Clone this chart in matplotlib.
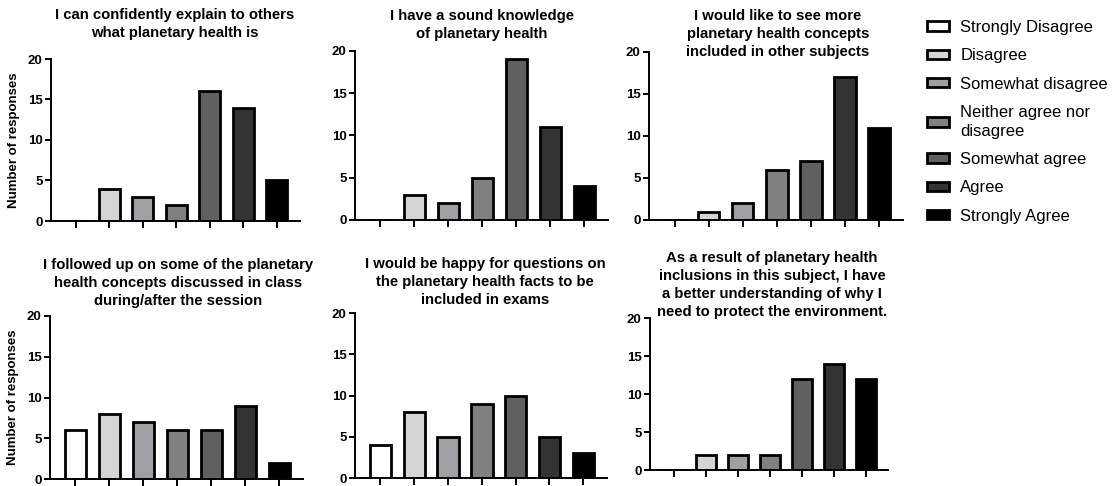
import matplotlib
matplotlib.use("Agg")
import matplotlib.pyplot as plt
from matplotlib.patches import Patch

plt.rcParams['font.family'] = ['Liberation Sans', 'DejaVu Sans']

categories = ["Strongly Disagree", "Disagree", "Somewhat disagree",
              "Neither agree nor\ndisagree", "Somewhat agree", "Agree",
              "Strongly Agree"]
colors = ["#ffffff", "#d4d4d4", "#a0a0a4", "#808080", "#606060", "#333333", "#000000"]

titles = [
    "I can confidently explain to others\nwhat planetary health is",
    "I have a sound knowledge\nof planetary health",
    "I would like to see more\nplanetary health concepts\nincluded in other subjects",
    "I followed up on some of the planetary\nhealth concepts discussed in class\nduring/after the session",
    "I would be happy for questions on\nthe planetary health facts to be\nincluded in exams",
    "As a result of planetary health\ninclusions in this subject, I have\na better understanding of why I\nneed to protect the environment.",
]

q1 = [0, 4, 3, 2, 16, 14, 5]
q2 = [0, 3, 2, 5, 19, 11, 4]
q3 = [0, 1, 2, 6, 7, 17, 11]
q4 = [6, 8, 7, 6, 6, 9, 2]
q5 = [4, 8, 5, 9, 10, 5, 3]
q6 = [0, 2, 2, 2, 12, 14, 12]
responses = [q1, q2, q3, q4, q5, q6]

W, H = 1114, 486
# pixel boxes: left, right, top, bottom, title centre x, title centre y
boxes = [
    (51, 300, 59, 221, 175, 24),
    (355, 608, 51, 220, 482, 25),
    (649, 903, 52, 220, 778, 34),
    (50, 303, 316, 479, 178, 283),
    (355, 607, 313, 478, 485, 282),
    (650, 888, 318, 470, 772, 285),
]

fig = plt.figure(figsize=(W / 100, H / 100), dpi=100)

for i, (vals, title, box) in enumerate(zip(responses, titles, boxes)):
    l, r, t, b, tx, ty = box
    ax = fig.add_axes([l / W, 1 - b / H, (r - l) / W, (b - t) / H])
    x = range(len(vals))
    ax.bar(x, vals, width=0.63, color=colors, edgecolor="black", linewidth=2)
    ax.set_xlim(-0.75, 6.7)
    ax.set_ylim(0, 20)
    ax.set_yticks([0, 5, 10, 15, 20])
    ax.set_xticks(list(x))
    ax.set_xticklabels([])
    for s in ["top", "right"]:
        ax.spines[s].set_visible(False)
    for s in ["left", "bottom"]:
        ax.spines[s].set_linewidth(1.4)
    ax.tick_params(axis="y", width=1.4, length=4, labelsize=9.5, pad=2)
    ax.tick_params(axis="x", width=1.4, length=5)
    for lab in ax.get_yticklabels():
        lab.set_fontweight("bold")
    fig.text(tx / W, 1 - ty / H, title, ha="center", va="center", multialignment="center",
             fontsize=10.7, fontweight="bold", linespacing=1.36)
    if i % 3 == 0:
        ax.set_ylabel("Number of responses", fontsize=9.5, fontweight="bold", labelpad=6)

handles = [Patch(facecolor=c, edgecolor="black", linewidth=2) for c in colors]
leg = fig.legend(handles, categories, loc="upper left", bbox_to_anchor=(927 / W, 1 - 20 / H),
                 frameon=False, fontsize=12, handlelength=1.3, handleheight=0.5,
                 handletextpad=0.7, labelspacing=0.8, borderaxespad=0, borderpad=0)
for txt in leg.get_texts():
    txt.set_linespacing(1.3)

fig.savefig("out.png", dpi=100)
